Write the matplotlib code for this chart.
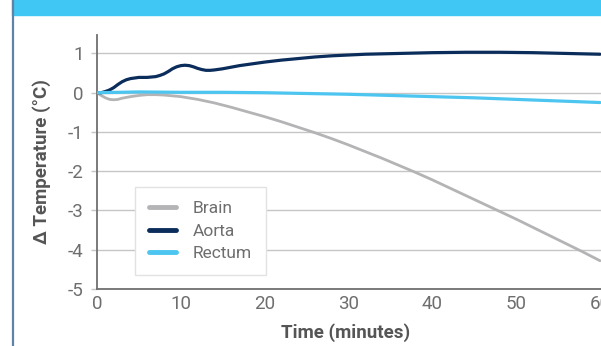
import matplotlib
matplotlib.use("Agg")
import matplotlib.pyplot as plt
from matplotlib import font_manager
from matplotlib.patches import Rectangle
from matplotlib.lines import Line2D

# Values
brain_t = [0, 0.5, 1, 1.5, 2, 2.5, 3, 4, 5, 6, 7, 8, 9, 10, 12, 14, 16, 18, 20, 22, 24,
           26, 28, 30, 32, 34, 36, 38, 40, 42, 44, 46, 48, 50, 52, 54, 56, 58, 60]
brain_v = [0, -0.07, -0.13, -0.17, -0.18, -0.17, -0.14, -0.1, -0.07, -0.05, -0.05,
           -0.06, -0.08, -0.1, -0.17, -0.26, -0.37, -0.49, -0.61, -0.74, -0.88, -1.02,
           -1.17, -1.33, -1.5, -1.67, -1.85, -2.03, -2.22, -2.42, -2.62, -2.82, -3.02,
           -3.22, -3.43, -3.64, -3.85, -4.06, -4.28]

aorta_t = [0, 0.5, 1, 1.5, 2, 2.5, 3, 3.5, 4, 5, 6, 7, 7.5, 8, 8.5, 9, 9.5, 10, 10.5,
           11, 11.5, 12, 12.5, 13, 13.5, 14, 15, 16, 17, 18, 20, 22, 24, 26, 28, 30,
           32, 34, 36, 38, 40, 44, 48, 52, 56, 60]
aorta_v = [0, 0.0, 0.03, 0.07, 0.13, 0.21, 0.28, 0.33, 0.36, 0.39, 0.39, 0.41, 0.44,
           0.48, 0.54, 0.61, 0.66, 0.69, 0.7, 0.69, 0.66, 0.62, 0.59, 0.57, 0.57, 0.58,
           0.61, 0.65, 0.69, 0.72, 0.78, 0.83, 0.87, 0.91, 0.94, 0.96, 0.98, 0.99, 1.0,
           1.01, 1.02, 1.03, 1.03, 1.02, 1.0, 0.98]

rectum_t = [0, 5, 10, 15, 20, 25, 30, 35, 40, 45, 50, 55, 60]
rectum_v = [0, 0.02, 0.01, 0.01, 0.0, -0.02, -0.04, -0.07, -0.1, -0.13, -0.17, -0.21, -0.25]

labels = ['Brain', 'Aorta', 'Rectum']
colors = ['#B4B4B6', '#0B2D5B', '#4CC6F0']
y_ticks = [-5, -4, -3, -2, -1, 0, 1]
x_ticks = [0, 10, 20, 30, 40, 50, 60]

# Pick a narrow font if there is one
names = {f.name for f in font_manager.fontManager.ttflist}
if 'Liberation Sans Narrow' in names:
    family = 'Liberation Sans Narrow'
    tick_size, label_size, leg_size = 14, 14, 13.5
else:
    family = 'Roboto'
    tick_size, label_size, leg_size = 13.5, 13.5, 12.5
plt.rcParams['font.family'] = [family, 'DejaVu Sans']
plt.rcParams['axes.unicode_minus'] = False

fig = plt.figure(figsize=(6.01, 3.46), dpi=100)

# Blue banner and left border line
fig.patches.append(Rectangle((12 / 601, 1 - 14.5 / 346), 1, 14.5 / 346,
                             transform=fig.transFigure, color='#41C7F3', zorder=0))
fig.lines.append(Line2D([12.8 / 601, 12.8 / 601], [0, 1], transform=fig.transFigure,
                        color='#5F82A8', linewidth=1.6))

ax = fig.add_axes([97 / 601, 57 / 346, 504 / 601, 254 / 346])

style = dict(solid_joinstyle='round', solid_capstyle='round')
ax.plot(brain_t, brain_v, color=colors[0], linewidth=2.0, label=labels[0], zorder=3, **style)
ax.plot(aorta_t, aorta_v, color=colors[1], linewidth=2.3, label=labels[1], zorder=4, **style)
ax.plot(rectum_t, rectum_v, color=colors[2], linewidth=2.3, label=labels[2], zorder=5, **style)

ax.set_xlim(0, 60.12)
ax.set_ylim(-5, 1.47)
ax.set_xticks(x_ticks)
ax.set_yticks(y_ticks)
ax.grid(axis='y', color='#C6C6C6', linewidth=1.0)
ax.set_axisbelow(True)

for side in ['top', 'right']:
    ax.spines[side].set_visible(False)
for side in ['left', 'bottom']:
    ax.spines[side].set_color('#707070')
    ax.spines[side].set_linewidth(1.3)

ax.tick_params(axis='y', length=4, width=1, color='#C6C6C6', pad=5.5,
               labelsize=tick_size, labelcolor='#6E6E6E')
ax.tick_params(axis='x', length=0, pad=4, labelsize=tick_size, labelcolor='#6E6E6E')

ax.set_ylabel('Δ Temperature (°C)', fontsize=label_size, fontweight='bold',
              color='#555555', va='center')
ax.yaxis.set_label_coords(-0.109, 0.5)
ax.set_xlabel('Time (minutes)', fontsize=label_size, fontweight='bold',
              color='#555555', va='center')
ax.xaxis.set_label_coords(0.494, -0.173)

leg = ax.legend(loc='lower left', bbox_to_anchor=(0.075, 0.055), borderaxespad=0,
                fontsize=leg_size, handlelength=1.55, handletextpad=1.0,
                labelspacing=0.42, borderpad=0.8, fancybox=False, framealpha=1,
                edgecolor='#E2E2E2')
for line in leg.get_lines():
    line.set_linewidth(3.5)
for text in leg.get_texts():
    text.set_color('#6E6E6E')

plt.savefig('out.png', dpi=100)
